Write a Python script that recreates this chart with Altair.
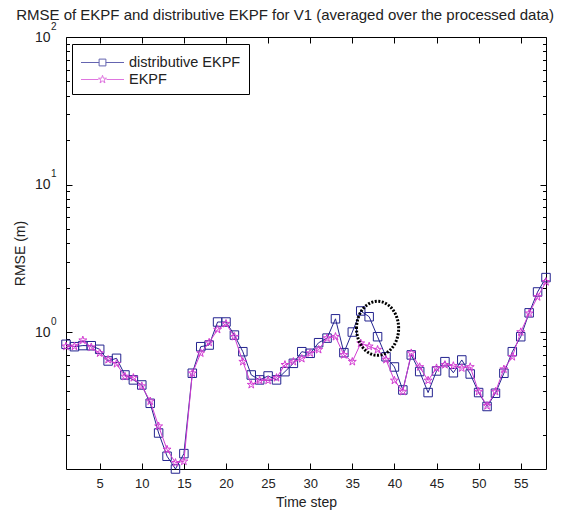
import altair as alt
import pandas as pd

# ---------------- data ----------------
time_steps = list(range(1, 59))
distributive_ekpf = [
    0.826, 0.796, 0.810, 0.808, 0.764, 0.637, 0.664, 0.512, 0.474, 0.438,
    0.329, 0.207, 0.144, 0.118, 0.150, 0.526, 0.796, 0.817, 1.17, 1.17,
    0.954, 0.736, 0.512, 0.474, 0.504, 0.474, 0.539, 0.614, 0.736, 0.718,
    0.847, 0.910, 1.23, 0.725, 1.00, 1.39, 1.27, 0.93, 0.68, 0.58,
    0.405, 0.70, 0.54, 0.389, 0.545, 0.63, 0.53, 0.647, 0.52, 0.389,
    0.313, 0.385, 0.526, 0.736, 0.93, 1.35, 1.87, 2.34,
]
ekpf = [
    0.80, 0.80, 0.88, 0.79, 0.72, 0.65, 0.61, 0.50, 0.49, 0.43,
    0.34, 0.23, 0.16, 0.13, 0.133, 0.526, 0.72, 0.85, 1.04, 1.14,
    0.93, 0.63, 0.44, 0.47, 0.47, 0.49, 0.60, 0.63, 0.66, 0.72,
    0.76, 0.91, 0.93, 0.70, 0.63, 0.84, 0.80, 0.76, 0.65, 0.47,
    0.395, 0.72, 0.58, 0.47, 0.57, 0.60, 0.59, 0.57, 0.58, 0.395,
    0.316, 0.395, 0.56, 0.68, 1.00, 1.34, 1.73, 2.19,
]
series_names = ["distributive EKPF", "EKPF"]
x_tick_values = [5, 10, 15, 20, 25, 30, 35, 40, 45, 50, 55]
y_major = [1, 10, 100]
y_minor = [0.2, 0.3, 0.4, 0.5, 0.6, 0.7, 0.8, 0.9,
           2, 3, 4, 5, 6, 7, 8, 9,
           20, 30, 40, 50, 60, 70, 80, 90]
highlight_t = [38]
highlight_rmse = [1.06]

title_text = "RMSE of EKPF and distributive EKPF for V1 (averaged over the processed data)"

# ---------------- style ----------------
BLUE = "#23238f"
MAGENTA = "#d23cd2"
FONT = "Liberation Sans"
W, H = 480, 432

STAR = ("M0,-1L0.225,-0.309L0.951,-0.309L0.363,0.118L0.588,0.809L0,0.382"
        "L-0.588,0.809L-0.363,0.118L-0.951,-0.309L-0.225,-0.309Z")
# legend symbols: line with a marker in the middle (unit = 10 px at size 400)
LEG_SQ = ("M-2.15,0L-0.34,0M0.34,0L2.15,0"
          "M-0.34,-0.34L0.34,-0.34L0.34,0.34L-0.34,0.34Z")
LEG_STAR = ("M-2.15,0L-0.4,0M0.4,0L2.15,0"
            "M0,-0.42L0.095,-0.13L0.4,-0.13L0.153,0.05L0.247,0.34L0,0.16"
            "L-0.247,0.34L-0.153,0.05L-0.4,-0.13L-0.095,-0.13Z")
ELLIPSE = "M-0.78,0A0.78,1 0 1,1 0.78,0A0.78,1 0 1,1 -0.78,0Z"

df = pd.DataFrame({"t": time_steps, "dist": distributive_ekpf, "ekpf": ekpf})
df_hl = pd.DataFrame({"t": highlight_t, "v": highlight_rmse})
df_leg = pd.DataFrame({"series": series_names, "t": [1, 1], "v": [1, 1]})

xs = alt.Scale(domain=[1, 58], nice=False, zero=False)
ys = alt.Scale(type="log", domain=[0.118, 100], nice=False)


def tick_axis(orient, offset, values, size):
    return alt.Axis(orient=orient, offset=offset, values=values, labels=False,
                    domain=False, ticks=True, tickSize=size, tickColor="black",
                    tickWidth=1, title=None, grid=False)


# x axes
x_label_axis = alt.Axis(orient="bottom", values=x_tick_values, ticks=False, tickSize=0,
                        domain=False, grid=False, labelPadding=8, labelFontSize=13,
                        labelFont=FONT, labelColor="#222", title="Time step",
                        titleFont=FONT, titleFontSize=14, titleFontWeight="normal",
                        titleColor="#222", titlePadding=5)
x_bottom_ticks = tick_axis("top", -H, x_tick_values, 6)
x_top_ticks = tick_axis("bottom", -H, x_tick_values, 6)

# y axes
y_label_axis = alt.Axis(orient="left", values=y_major, labelExpr="'10'", ticks=False,
                        tickSize=0, domain=False, grid=False, labelPadding=16,
                        labelFontSize=14, labelFont=FONT, labelColor="#222",
                        title="RMSE (m)", titleFont=FONT, titleFontSize=14,
                        titleFontWeight="normal", titleColor="#222", titlePadding=7)
y_exp_axis = alt.Axis(orient="left", values=y_major,
                      labelExpr="datum.value == 1 ? '0' : datum.value == 10 ? '1' : '2'",
                      ticks=False, tickSize=0, domain=False, grid=False, labelPadding=10,
                      labelFontSize=10, labelFont=FONT, labelColor="#222", labelOffset=-11,
                      title=None)
y_left_major = tick_axis("right", -W, y_major, 6)
y_left_minor = tick_axis("right", -W, y_minor, 3.5)
y_right_major = tick_axis("left", -W, y_major, 6)
y_right_minor = tick_axis("left", -W, y_minor, 3.5)

base = alt.Chart(df)

blue_line = base.mark_line(color=BLUE, strokeWidth=1).encode(
    x=alt.X("t:Q", scale=xs, axis=x_label_axis),
    y=alt.Y("dist:Q", scale=ys, axis=y_label_axis),
)
blue_pts = base.mark_point(shape="square", size=72, filled=False, color=BLUE,
                           strokeWidth=1, opacity=1).encode(
    x=alt.X("t:Q", scale=xs, axis=x_bottom_ticks),
    y=alt.Y("dist:Q", scale=ys, axis=y_exp_axis),
)
mag_line = base.mark_line(color=MAGENTA, strokeWidth=1).encode(
    x=alt.X("t:Q", scale=xs, axis=x_top_ticks),
    y=alt.Y("ekpf:Q", scale=ys, axis=y_left_major),
)
mag_pts = base.mark_point(shape=STAR, size=70, filled=False, color=MAGENTA,
                          strokeWidth=1, opacity=1).encode(
    x=alt.X("t:Q", scale=xs, axis=None),
    y=alt.Y("ekpf:Q", scale=ys, axis=y_left_minor),
)
ellipse = alt.Chart(df_hl).mark_point(shape=ELLIPSE, size=2916, filled=False,
                                      color="black", strokeWidth=3,
                                      strokeDash=[2, 1.5], opacity=1).encode(
    x=alt.X("t:Q", scale=xs, axis=None),
    y=alt.Y("v:Q", scale=ys, axis=y_right_major),
)
leg = alt.Legend(orient="none", legendX=6, legendY=7, title=None,
                 symbolSize=400, symbolStrokeWidth=1,
                 labelFont=FONT, labelFontSize=14.5, labelColor="#222",
                 strokeColor="black", fillColor="white",
                 padding=8, rowPadding=0, labelOffset=16, symbolOffset=12)
legend_layer = alt.Chart(df_leg).transform_filter("false").mark_point(
    filled=False, strokeWidth=1).encode(
    x=alt.X("t:Q", scale=xs, axis=None),
    y=alt.Y("v:Q", scale=ys, axis=y_right_minor),
    color=alt.Color("series:N", scale=alt.Scale(domain=series_names, range=[BLUE, MAGENTA]),
                    legend=leg),
    shape=alt.Shape("series:N", scale=alt.Scale(domain=series_names, range=[LEG_SQ, LEG_STAR]),
                    legend=leg),
)

chart = alt.layer(blue_line, blue_pts, mag_line, mag_pts, ellipse, legend_layer).resolve_axis(
    x="independent", y="independent"
).properties(
    width=W, height=H,
    title=alt.TitleParams(text=title_text, font=FONT, fontSize=15, fontWeight="normal",
                          color="#222", anchor="middle", frame="group", baseline="alphabetic",
                          offset=2, dx=-21, dy=16),
    padding={"left": 66, "top": 37, "right": 20, "bottom": 48},
    autosize=alt.AutoSizeParams(type="none"),
    background="white",
).configure_view(stroke="black", strokeWidth=1)

chart.save("out.html", embed_options={"renderer": "svg", "actions": False})
